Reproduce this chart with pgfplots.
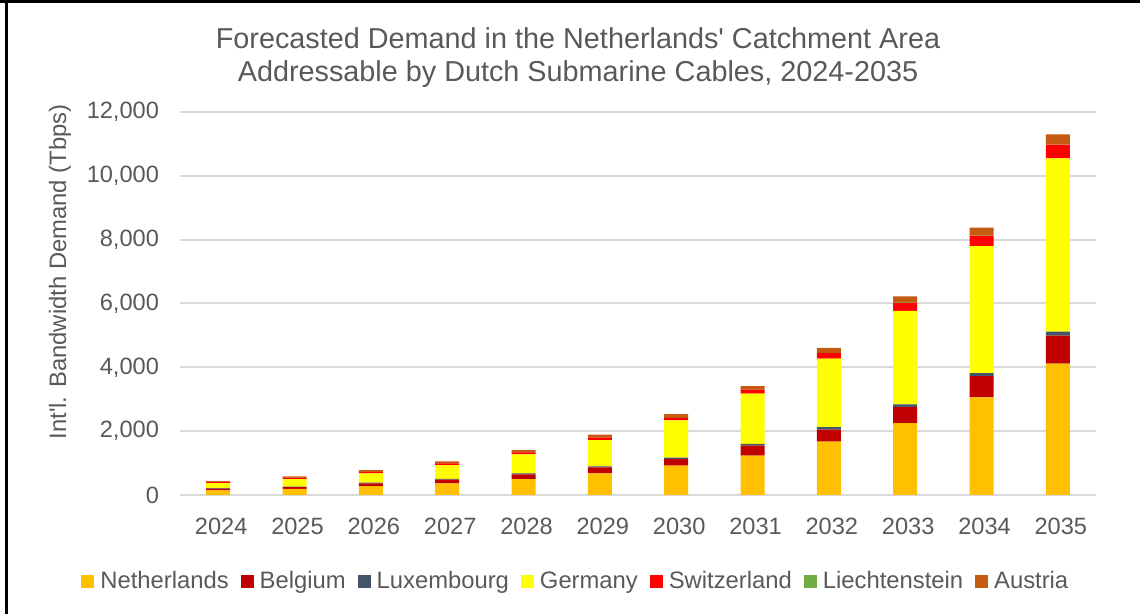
\documentclass[border=0pt]{standalone}
\usepackage{fontspec}
\setmainfont{Liberation Sans}
\usepackage{pgfplots}
\pgfplotsset{compat=1.18}
\definecolor{txt}{HTML}{595959}
\definecolor{gridc}{HTML}{D9D9D9}
\definecolor{cNL}{HTML}{FFC000}
\definecolor{cBE}{HTML}{C00000}
\definecolor{cLU}{HTML}{44546A}
\definecolor{cDE}{HTML}{FFFF00}
\definecolor{cCH}{HTML}{FF0000}
\definecolor{cLI}{HTML}{70AD47}
\definecolor{cAT}{HTML}{C55A11}
\begin{document}
\begin{tikzpicture}
\useasboundingbox (0,0) rectangle (570pt,307pt);
\begin{axis}[
  at={(90pt,59.5pt)}, anchor=south west,
  scale only axis, width=458pt, height=191.5pt,
  ybar stacked, bar width=12pt,
  xmin=-0.5, xmax=11.5, ymin=0, ymax=12000,
  xtick={0,1,2,3,4,5,6,7,8,9,10,11},
  xticklabels={2024,2025,2026,2027,2028,2029,2030,2031,2032,2033,2034,2035},
  ytick={0,2000,4000,6000,8000,10000,12000},
  axis line style={draw=none},
  major tick length=0pt,
  ymajorgrids, major grid style={draw=gridc, line width=1pt},
  tick label style={font=\fontsize{11.8}{13}\selectfont, text=txt},
  /pgf/number format/assume math mode=true,
  /pgf/number format/1000 sep={,},
  scaled y ticks=false,
  yticklabel style={xshift=-7pt},
  xticklabel style={yshift=-8pt, xshift=1.5pt},
  legend columns=7,
  legend style={at={(0.431,-0.226)}, anchor=center, draw=none, fill=none,
    font=\fontsize{11.9}{13}\selectfont, text=txt,
    nodes={inner sep=0pt},
    /tikz/every odd column/.append style={column sep=3pt},
    /tikz/every even column/.append style={column sep=6pt}},
  legend image code/.code={\fill[#1,draw=none] (0pt,-3.25pt) rectangle (6.5pt,3.25pt);},
]
\addplot[fill=cNL, draw=none] coordinates {(0,147) (1,188) (2,281) (3,366) (4,500) (5,678) (6,919) (7,1235) (8,1675) (9,2250) (10,3057) (11,4116)};
\addplot[fill=cBE, draw=none] coordinates {(0,53) (1,62) (2,85) (3,115) (4,147) (5,188) (6,206) (7,314) (8,377) (9,502) (10,669) (11,879)};
\addplot[fill=cLU, draw=none] coordinates {(0,12) (1,15) (2,18) (3,22) (4,27) (5,33) (6,45) (7,53) (8,72) (9,85) (10,95) (11,126)};
\addplot[fill=cDE, draw=none] coordinates {(0,163) (1,235) (2,294) (3,435) (4,598) (5,820) (6,1164) (7,1571) (8,2149) (9,2931) (10,3980) (11,5423)};
\addplot[fill=cCH, draw=none] coordinates {(0,44) (1,44) (2,41) (3,53) (4,62) (5,75) (6,82) (7,126) (8,176) (9,251) (10,323) (11,430)};
\addplot[fill=cLI, draw=none] coordinates {(0,1) (1,1) (2,1) (3,2) (4,2) (5,3) (6,3) (7,4) (8,5) (9,6) (10,7) (11,9)};
\addplot[fill=cAT, draw=none] coordinates {(0,18) (1,39) (2,61) (3,60) (4,70) (5,91) (6,112) (7,109) (8,152) (9,195) (10,245) (11,315)};
\legend{Netherlands,Belgium,Luxembourg,Germany,Switzerland,Liechtenstein,Austria}
\end{axis}
\node[align=center, text=txt, font=\fontsize{14.4}{16.5}\selectfont] at (289pt,278pt)
  {Forecasted Demand in the Netherlands\textquotesingle\ Catchment Area\\Addressable by Dutch Submarine Cables, 2024-2035};
\node[rotate=90, text=txt, font=\fontsize{11.9}{13}\selectfont] at (30pt,171pt) {Int\textquotesingle l. Bandwidth Demand (Tbps)};
\draw[line width=1.5pt] (0,306.25pt) -- (570pt,306.25pt);
\draw[line width=1.2pt] (3.3pt,0) -- (3.3pt,307pt);
\end{tikzpicture}
\end{document}
